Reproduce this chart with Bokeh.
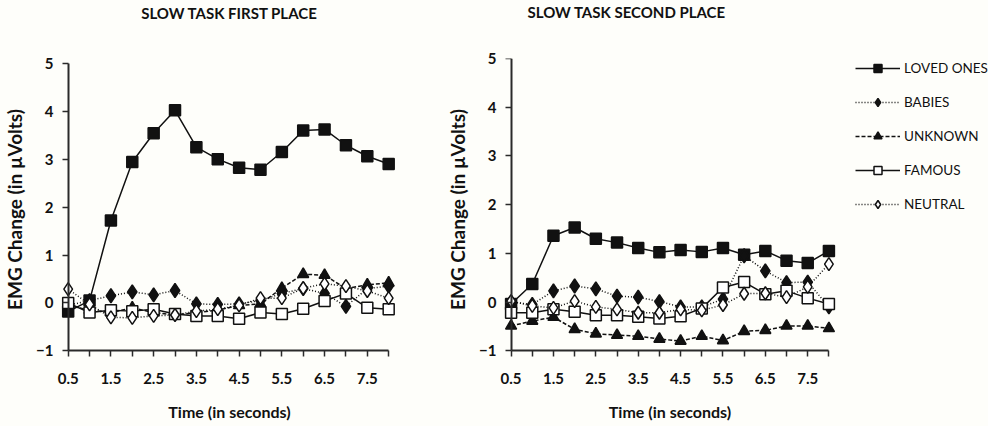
from bokeh.plotting import figure
from bokeh.layouts import row
from bokeh.models import Range1d, FixedTicker, Legend, LegendItem, LinearAxis, Title
from bokeh.embed import file_html
from bokeh.resources import INLINE

# ---------------- data ----------------
times = [0.5, 1.0, 1.5, 2.0, 2.5, 3.0, 3.5, 4.0, 4.5, 5.0, 5.5, 6.0, 6.5, 7.0, 7.5, 8.0]
x_ticks = [0.5, 1.0, 1.5, 2.0, 2.5, 3.0, 3.5, 4.0, 4.5, 5.0, 5.5, 6.0, 6.5, 7.0, 7.5, 8.0]
x_labelled = ["0.5", "1.5", "2.5", "3.5", "4.5", "5.5", "6.5", "7.5"]
y_ticks = [-1, 0, 1, 2, 3, 4, 5]

series_names = ["LOVED ONES", "BABIES", "UNKNOWN", "FAMOUS", "NEUTRAL"]

first_loved   = [-0.18, 0.05, 1.72, 2.94, 3.54, 4.02, 3.25, 3.00, 2.82, 2.78, 3.15, 3.60, 3.62, 3.29, 3.06, 2.90]
first_babies  = [-0.05, 0.05, 0.15, 0.23, 0.17, 0.26, -0.02, -0.03, -0.02, 0.05, 0.20, 0.30, 0.20, -0.07, 0.30, 0.35]
first_unknown = [-0.05, -0.15, -0.20, -0.10, -0.20, -0.25, -0.20, -0.15, -0.05, -0.02, 0.31, 0.60, 0.58, 0.30, 0.38, 0.42]
first_famous  = [0.00, -0.20, -0.15, -0.17, -0.13, -0.23, -0.27, -0.27, -0.33, -0.20, -0.23, -0.12, 0.04, 0.20, -0.10, -0.13]
first_neutral = [0.29, -0.03, -0.30, -0.31, -0.27, -0.25, -0.17, -0.13, -0.05, 0.10, 0.10, 0.31, 0.40, 0.35, 0.25, 0.10]

second_loved   = [-0.04, 0.37, 1.36, 1.53, 1.30, 1.22, 1.11, 1.02, 1.07, 1.03, 1.11, 0.97, 1.05, 0.85, 0.80, 1.05]
second_babies  = [0.00, -0.05, 0.23, 0.33, 0.27, 0.12, 0.10, 0.01, -0.10, -0.10, 0.06, 0.95, 0.64, 0.40, 0.41, -0.10]
second_unknown = [-0.49, -0.39, -0.31, -0.56, -0.65, -0.68, -0.70, -0.76, -0.80, -0.70, -0.79, -0.60, -0.58, -0.49, -0.49, -0.54]
second_famous  = [-0.22, -0.22, -0.15, -0.20, -0.27, -0.27, -0.30, -0.34, -0.29, -0.13, 0.30, 0.41, 0.16, 0.23, 0.08, -0.04]
second_neutral = [0.02, -0.08, -0.12, 0.02, -0.10, -0.15, -0.22, -0.22, -0.15, -0.17, -0.06, 0.17, 0.18, 0.10, 0.31, 0.78]

# ---------------- styles ----------------
BG = "#fefefa"
INK = "#111111"
AX = "#2a2a2a"
FONT = "Lato"
styles = {
    "LOVED ONES": dict(dash="solid", marker="square", fill=INK, size=11),
    "BABIES": dict(dash="1 2", marker="diamond", fill=INK, size=14),
    "UNKNOWN": dict(dash="4 2", marker="triangle", fill=INK, size=11),
    "FAMOUS": dict(dash="solid", marker="square", fill="white", size=11),
    "NEUTRAL": dict(dash="1 2", marker="diamond", fill="white", size=13),
}
TOP, FRAME_H, BOTTOM = 58, 302, 66


def bare(ax):
    ax.axis_line_color = None
    ax.major_tick_line_color = None
    ax.minor_tick_line_color = None
    ax.major_tick_out = 0
    ax.major_tick_in = 0
    ax.minor_tick_out = 0
    ax.minor_tick_in = 0
    ax.major_label_text_font = FONT
    ax.major_label_text_font_style = "bold"
    ax.major_label_text_font_size = "15px"
    ax.major_label_text_color = INK
    ax.axis_label_text_font = FONT
    ax.axis_label_text_font_style = "bold"
    ax.axis_label_text_color = INK


def style_line_axis(ax):
    ax.axis_line_width = 2
    ax.axis_line_color = AX
    ax.major_tick_line_width = 1.5
    ax.major_tick_line_color = AX
    ax.major_tick_out = 6
    ax.major_tick_in = 0
    ax.minor_tick_out = 0
    ax.minor_tick_in = 0
    ax.minor_tick_line_color = None


def base_figure(frame_w, x_range, y_range, b_left, b_right):
    p = figure(frame_width=frame_w, frame_height=FRAME_H,
               x_range=x_range, y_range=y_range,
               x_axis_location=None, y_axis_location=None,
               output_backend="svg", toolbar_location=None,
               min_border_left=b_left, min_border_right=b_right,
               min_border_top=TOP, min_border_bottom=BOTTOM)
    p.background_fill_color = BG
    p.border_fill_color = BG
    p.outline_line_color = None
    p.grid.visible = False
    return p


def make_panel(title, values, x_end, y_top, frame_w, b_left, b_right, title_offset=None):
    p = base_figure(frame_w, Range1d(0.25, x_end), Range1d(-1.2, y_top), b_left, b_right)

    if title_offset is None:
        # title, drawn as the label of an empty axis above the frame
        tax = LinearAxis(ticker=FixedTicker(ticks=[]), axis_label=title)
        bare(tax)
        tax.major_label_standoff = 0
        tax.axis_label_standoff = 37
        tax.axis_label_text_font_size = "15px"
        p.add_layout(tax, "above")
    else:
        # an empty spacer axis pushes the title up, then a left-aligned title with an offset
        spacer = LinearAxis(ticker=FixedTicker(ticks=[0.5]), major_label_overrides={0.5: ""})
        bare(spacer)
        spacer.major_tick_out = 38
        spacer.major_label_standoff = 0
        spacer.major_label_text_font_size = "0px"
        p.add_layout(spacer, "above")
        p.add_layout(Title(text=title, align="left", offset=title_offset, standoff=0,
                           text_font=FONT, text_font_size="15px", text_font_style="bold",
                           text_color=INK), "above")

    # axis lines and ticks, placed at x = 0.5 and y = -1
    xline = LinearAxis(ticker=FixedTicker(ticks=x_ticks), fixed_location=-1, bounds=(0.5, 8.0),
                       major_label_overrides={tk: "" for tk in x_ticks})
    yline = LinearAxis(ticker=FixedTicker(ticks=y_ticks), fixed_location=0.5, bounds=(-1, 5),
                       major_label_overrides={tk: "" for tk in y_ticks})
    style_line_axis(xline)
    style_line_axis(yline)
    xline.major_label_text_font_size = "0px"
    yline.major_label_text_font_size = "0px"
    p.add_layout(xline, "below")
    p.add_layout(yline, "left")

    # tick labels and axis titles
    overrides = {}
    for tk in x_ticks:
        lab = ("%g" % tk)
        overrides[tk] = lab if lab in x_labelled else ""
    xtext = LinearAxis(ticker=FixedTicker(ticks=x_ticks), major_label_overrides=overrides,
                       axis_label="Time (in seconds)")
    ytext = LinearAxis(ticker=FixedTicker(ticks=y_ticks),
                       axis_label="EMG Change (in \u00b5Volts)")
    bare(xtext)
    bare(ytext)
    xtext.axis_label_text_font_size = "16px"
    ytext.axis_label_text_font_size = "19px"
    xtext.major_label_standoff = 12
    xtext.axis_label_standoff = 15
    ytext.major_label_standoff = 4
    ytext.axis_label_standoff = 7
    p.add_layout(xtext, "below")
    p.add_layout(ytext, "left")

    for name, ys in zip(series_names, values):
        st = styles[name]
        p.line(times, ys, line_color=INK, line_width=1.5, line_dash=st["dash"])
        p.scatter(times, ys, marker=st["marker"], size=st["size"],
                  fill_color=st["fill"], line_color=INK, line_width=1.5)
    return p


left = make_panel("SLOW TASK FIRST PLACE",
                  [first_loved, first_babies, first_unknown, first_famous, first_neutral],
                  x_end=8.3, y_top=5.1, frame_w=344, b_left=54, b_right=42)
right_values = [second_loved, second_babies, second_unknown, second_famous, second_neutral]
right = make_panel("SLOW TASK SECOND PLACE", right_values,
                   x_end=8.25, y_top=5.0, frame_w=339, b_left=51, b_right=0, title_offset=27)

# legend panel: the series are drawn outside its visible range, only the legend shows
leg = base_figure(158, Range1d(100, 101), Range1d(100, 101), 0, 0)
items = []
for name, ys in zip(series_names, right_values):
    st = styles[name]
    ln = leg.line(times, ys, line_color=INK, line_width=1.5, line_dash=st["dash"])
    sc = leg.scatter(times, ys, marker=st["marker"], size=st["size"] - 1,
                     fill_color=st["fill"], line_color=INK, line_width=1.5)
    items.append(LegendItem(label=name, renderers=[ln, sc]))
lg = Legend(items=items, location=(16, 146), glyph_width=45, glyph_height=20,
            label_height=20, spacing=14, padding=0, margin=0,
            label_standoff=4, border_line_color=None,
            background_fill_alpha=0,
            label_text_font=FONT, label_text_font_size="13.5px",
            label_text_color=INK)
leg.add_layout(lg, "center")

layout = row(left, right, leg)
layout.background = BG
open("out.html", "w").write(file_html(layout, INLINE))
